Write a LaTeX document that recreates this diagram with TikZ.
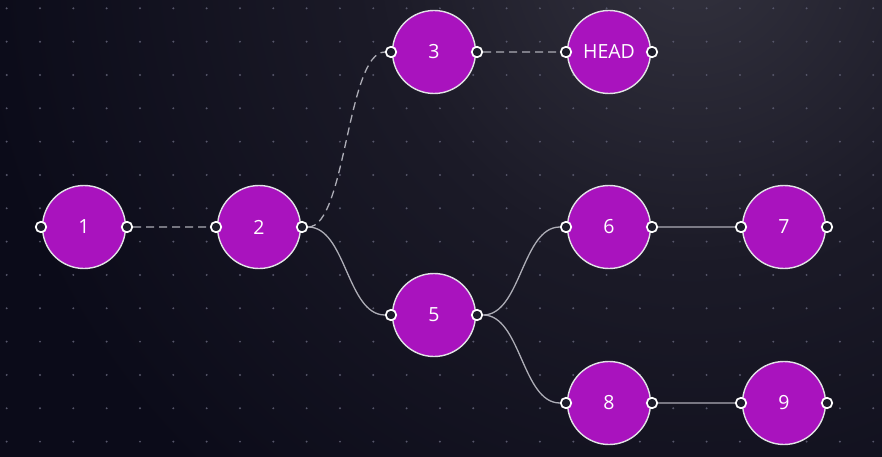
\documentclass[tikz,border=0pt]{standalone}
\usepackage{fontspec}
\setmainfont{Open Sans}
\definecolor{bgdark}{HTML}{0B0B19}
\definecolor{bgmid}{HTML}{1B1A27}
\definecolor{bglight}{HTML}{33323E}
\definecolor{gridc}{HTML}{56566A}
\definecolor{vfill}{HTML}{A913BE}
\definecolor{vline}{HTML}{E2E2E6}
\definecolor{wirec}{HTML}{ADADB6}
\definecolor{pfill}{HTML}{1D1D2B}
\pgfdeclareradialshading{glow}{\pgfpoint{0bp}{0bp}}{color(0bp)=(bglight); color(11bp)=(bgmid); color(25bp)=(bgdark); color(50bp)=(bgdark)}

\begin{document}
\begin{tikzpicture}[x=1pt,y=-1pt,
vertex/.style={circle,fill=vfill,draw=vline,line width=1.4pt,minimum size=83pt,inner sep=0pt,
  text=white,font=\fontsize{19.5}{22}\selectfont},
port/.style={circle,fill=pfill,draw=white,line width=1.7pt,minimum size=10.5pt,inner sep=0pt},
wire/.style={draw=wirec,line width=1.3pt},
lazy/.style={wire,dash pattern=on 8pt off 5pt}]
\useasboundingbox (0,0) rectangle (882,457);
% background and dot grid
\fill[bgdark] (0,0) rectangle (882,457);
\begin{scope}
\clip (0,0) rectangle (882,457);
\shade[shading=glow] (690,-50) circle (720);
\end{scope}
\foreach \i in {0,...,26}
  \foreach \j in {0,...,13}
    \fill[gridc] (6.67+33.33*\i,8.33+33.33*\j) circle (1.1);
% vertices with their ports
\foreach \name/\x/\y/\lab in {n1/84/227/1, n2/259/227/2, n3/434/52/3, head/609/52/HEAD,
  n5/434/315/5, n6/609/227/6, n7/784/227/7, n8/609/403/8, n9/784/403/9}
{
  \node[vertex] (\name) at (\x,\y) {\lab};
  \node[port] (\name-l) at (\x-43,\y) {};
  \node[port] (\name-r) at (\x+43,\y) {};
}
% links
\path[lazy] (n1-r) -- (n2-l)
  (n2-r) .. controls +(44,0) and +(-44,0) .. (n3-l)
  (n3-r) -- (head-l);
\path[wire] (n2-r) .. controls +(44,0) and +(-44,0) .. (n5-l)
  (n5-r) .. controls +(44,0) and +(-44,0) .. (n6-l)
  (n5-r) .. controls +(44,0) and +(-44,0) .. (n8-l)
  (n6-r) -- (n7-l)
  (n8-r) -- (n9-l);
\end{tikzpicture}
\end{document}
